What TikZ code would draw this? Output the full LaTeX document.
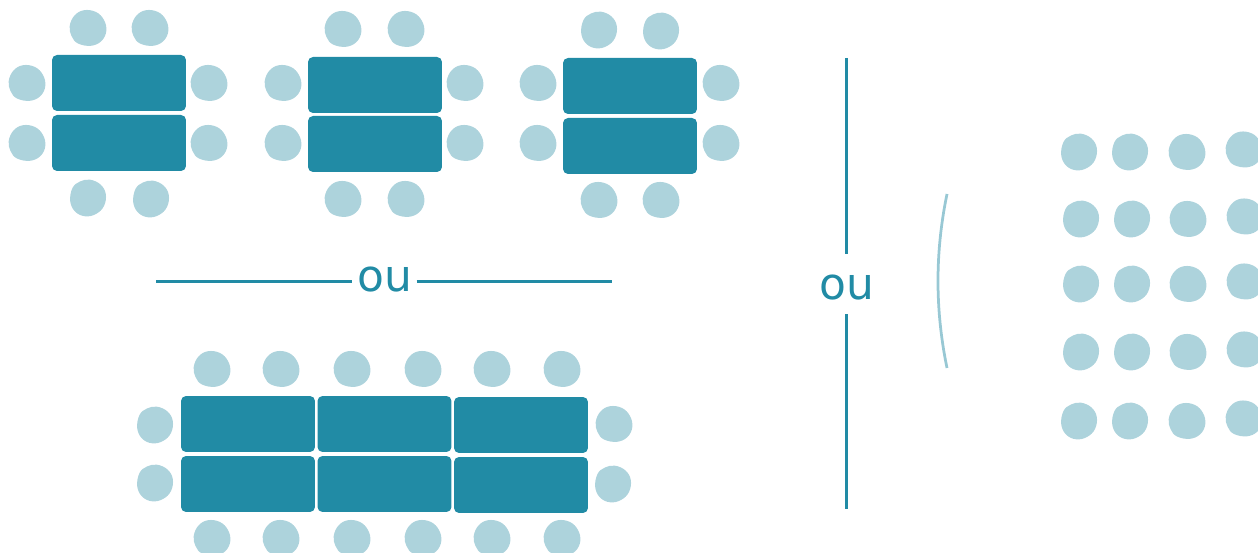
\documentclass[tikz,border=0pt]{standalone}
\usepackage{fontspec}
\setmainfont{DejaVu Sans}
\usetikzlibrary{positioning}

\definecolor{tableteal}{HTML}{218BA5}
\definecolor{seatblue}{HTML}{ADD3DC}

\begin{document}
\begin{tikzpicture}[
    x=0.02cm, y=-0.02cm,
    tablebox/.style={fill=tableteal, rounded corners=0.1cm, minimum width=2.68cm, minimum height=1.12cm, inner sep=0pt},
    orlabel/.style={text=tableteal, font=\fontsize{25}{25}\selectfont, inner ysep=0pt},
    orline/.style={draw=tableteal, line width=0.055cm},
    seat/.pic={\fill[seatblue] plot[smooth cycle, tension=0.65] coordinates {(2,-18.3) (12.5,-13.5) (17.8,-4) (16,8) (8,16) (-3,18.3) (-13,13.5) (-17.8,3) (-15.5,-10) (-8,-16.5)};}
]
\useasboundingbox (0,0) rectangle (1258,553);
\clip (0,0) rectangle (1258,553);

% Tables
\node[tablebox] (a1) at (119,83) {};
\node[tablebox] (a2) at (119,143) {};
\node[tablebox] (b1) at (375,85) {};
\node[tablebox] (b2) at (375,144) {};
\node[tablebox] (c1) at (630,86) {};
\node[tablebox] (c2) at (630,146) {};
\node[tablebox] (d1) at (248,424) {};
\node[tablebox] (d2) at (248,484) {};
\node[tablebox] (e1) at (384.500,424) {};
\node[tablebox] (e2) at (384.500,484) {};
\node[tablebox] (f1) at (521,425) {};
\node[tablebox] (f2) at (521,485) {};

% Chaises autour des tables
\foreach \sx/\sy/\sa in {88/28/90, 150/28/90, 27/83/90, 27/143/90, 209/83/90, 209/143/90, 88/198/0, 151/199/0,
    343/29/90, 406/29/90, 283/83/90, 283/143/90, 465/83/90, 465/143/90, 343/199/90, 406/199/90,
    599/30/0, 661/31/0, 538/83/90, 538/143/90, 721/83/90, 721/143/90, 599/200/90, 661/200/90,
    212/369/90, 281/369/90, 352/369/90, 423/369/90, 492/369/90, 562/369/90,
    212/538/90, 281/538/90, 352/538/90, 423/538/90, 492/538/90, 562/538/90,
    155/425/0, 155/483/0, 614/424/90, 613/484/0}
    \pic[rotate=\sa] at (\sx,\sy) {seat};

% Chaises en rangs
\foreach \sy in {152, 421} {
    \foreach \sx in {1079, 1130} \pic at (\sx,\sy) {seat};
    \pic[rotate=90] at (1187,\sy) {seat};
    \pic[rotate=90] at (1244,\sy-2.500) {seat};
}
\foreach \sy in {219, 284, 352} {
    \foreach \sx in {1081, 1132} \pic at (\sx,\sy) {seat};
    \pic[rotate=90] at (1188,\sy) {seat};
    \pic[rotate=90] at (1245,\sy-2.500) {seat};
}

% Separations
\node[orlabel, inner xsep=0.09cm, text height=0.5cm, text depth=0.08cm] (ouh) at (384.500,281.500) {ou};
\node[orlabel, inner xsep=0pt, text height=0.91cm, text depth=0.29cm] (ouv) at (847,284) {ou};
\coordinate (hleft) at (156,281.500);
\coordinate (hright) at (612,281.500);
\coordinate (vtop) at (846.500,58);
\coordinate (vbottom) at (846.500,509);
\draw[orline] (hleft) -- (ouh);
\draw[orline] (ouh) -- (hright);
\draw[orline] (vtop) -- (vtop |- ouv.north);
\draw[orline] (vbottom |- ouv.south) -- (vbottom);

% Arc
\coordinate (arctop) at (947,194);
\coordinate (arcbottom) at (947,368);
\draw[draw=seatblue!85!tableteal, line width=0.055cm] (arctop) .. controls (935,252) and (935,310) .. (arcbottom);

\end{tikzpicture}
\end{document}
